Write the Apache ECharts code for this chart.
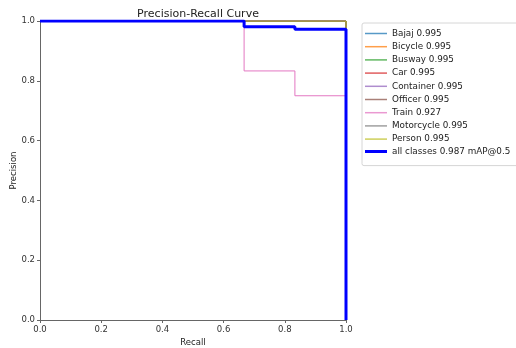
<!DOCTYPE html>
<html>
<head>
<meta charset="utf-8">
<script src="https://cdn.jsdelivr.net/npm/echarts@6/dist/echarts.min.js"></script>
<style>html,body{margin:0;padding:0;background:#fff}#c{width:516px;height:348px}</style>
</head>
<body>
<div id="c"></div>
<script>
const classNames = ['Bajaj 0.995','Bicycle 0.995','Busway 0.995','Car 0.995','Container 0.995','Officer 0.995','Train 0.927','Motorcycle 0.995','Person 0.995'];
const classColors = ['#1f77b4','#ff7f0e','#2ca02c','#d62728','#9467bd','#8c564b','#e377c2','#7f7f7f','#bcbd22'];
// recall / precision step points per class
const perfectRecall = [0, 1, 1];
const perfectPrecision = [1, 1, 0];
const trainRecall = [0, 0.667, 0.667, 0.833, 0.833, 1, 1];
const trainPrecision = [1, 1, 0.833, 0.833, 0.75, 0.75, 0];
const allName = 'all classes 0.987 mAP@0.5';
const allRecall = [0, 0.667, 0.667, 0.833, 0.833, 1, 1];
const allPrecision = [1, 1, 0.981, 0.981, 0.972, 0.972, 0];

function zip(a, b) { return a.map((v, i) => [v, b[i]]); }

const series = classNames.map((n, i) => {
  const isTrain = n.startsWith('Train');
  return {
    name: n, type: 'line', showSymbol: false, symbol: 'none',
    data: isTrain ? zip(trainRecall, trainPrecision) : zip(perfectRecall, perfectPrecision),
    lineStyle: { width: 1, color: classColors[i] }, itemStyle: { color: classColors[i] },
    animation: false, z: 2
  };
});
series.push({
  name: allName, type: 'line', showSymbol: false, symbol: 'none',
  data: zip(allRecall, allPrecision),
  lineStyle: { width: 3, color: '#0000ff' }, itemStyle: { color: '#0000ff' },
  animation: false, z: 3
});

const legendData = classNames.map((n, i) => ({
  name: n, icon: 'rect', itemStyle: { color: classColors[i], opacity: 0.75 }
})).concat([{ name: allName, icon: 'rect', itemStyle: { color: '#0000ff' } }]);

const chart = echarts.init(document.getElementById('c'), null, { renderer: 'canvas' });
chart.setOption({
  backgroundColor: '#fff',
  animation: false,
  title: {
    text: 'Precision-Recall Curve', left: 193, top: 4, textAlign: 'center',
    textStyle: { fontFamily: 'DejaVu Sans', fontSize: 11, fontWeight: 'normal', color: '#222' }
  },
  grid: { left: 40, right: 170, top: 21, bottom: 28, outerBoundsMode: 'none', containLabel: false },
  legend: [{
    orient: 'vertical', left: 362, top: 23,
    padding: [6, 52, 22, 3],
    itemWidth: 22, itemHeight: 1.5, itemGap: 4.2,
    backgroundColor: '#fff', borderColor: '#d6d6d6', borderWidth: 1, borderRadius: 2,
    textStyle: { fontFamily: 'DejaVu Sans', fontSize: 8.8, color: '#222' },
    data: legendData.slice(0, 9)
  }, {
    orient: 'vertical', left: 365, top: 147,
    padding: 0,
    itemWidth: 22, itemHeight: 3,
    textStyle: { fontFamily: 'DejaVu Sans', fontSize: 8.8, color: '#222' },
    data: legendData.slice(9)
  }],
  xAxis: {
    type: 'value', min: 0, max: 1, interval: 0.2,
    name: 'Recall', nameLocation: 'middle', nameGap: 18, nameMoveOverlap: false,
    nameTextStyle: { fontFamily: 'DejaVu Sans', fontSize: 8.5, color: '#222' },
    axisLine: { show: true, lineStyle: { color: '#666', width: 1 } },
    axisTick: { show: true, length: 3, lineStyle: { color: '#666' } },
    axisLabel: { fontFamily: 'DejaVu Sans', fontSize: 8.5, color: '#333', margin: 5,
      formatter: v => v.toFixed(1) },
    splitLine: { show: false }
  },
  yAxis: {
    type: 'value', min: 0, max: 1, interval: 0.2,
    name: 'Precision', nameLocation: 'middle', nameGap: 22, nameMoveOverlap: false,
    nameTextStyle: { fontFamily: 'DejaVu Sans', fontSize: 8.5, color: '#222' },
    axisLine: { show: true, lineStyle: { color: '#666', width: 1 } },
    axisTick: { show: true, length: 3, lineStyle: { color: '#666' } },
    axisLabel: { fontFamily: 'DejaVu Sans', fontSize: 8.5, color: '#333', margin: 5,
      formatter: v => v.toFixed(1) },
    splitLine: { show: false }
  },
  series: series
});
</script>
</body>
</html>
